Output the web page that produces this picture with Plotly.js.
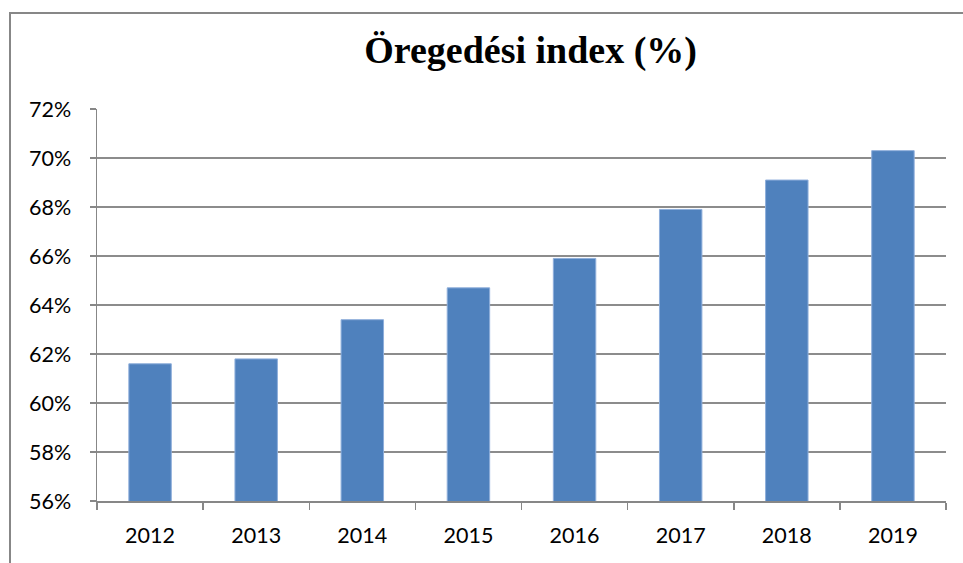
<!DOCTYPE html>
<html>
<head>
<meta charset="utf-8">
<script src="https://cdn.plot.ly/plotly-3.0.1.min.js"></script>
<style>
  html, body { margin: 0; padding: 0; background: #fff; overflow: hidden; }
  #frame { position: absolute; left: 9px; top: 12px; width: 1000px; height: 600px; border: 2px solid #878787; box-sizing: border-box; }
  #chart { position: absolute; left: 0; top: 0; width: 963px; height: 563px; }
</style>
</head>
<body>
<div id="frame"></div>
<div id="chart"></div>
<script>
const years = ['2012', '2013', '2014', '2015', '2016', '2017', '2018', '2019'];
const agingIndex = [61.6, 61.8, 63.4, 64.7, 65.9, 67.9, 69.1, 70.3];
const yTickVals = [56, 58, 60, 62, 64, 66, 68, 70, 72];
const yTickText = ['56%', '58%', '60%', '62%', '64%', '66%', '68%', '70%', '72%'];
const chartTitle = 'Öregedési index (%)';

const trace = {
  type: 'bar',
  x: years,
  y: agingIndex,
  marker: { color: '#4f81bd', line: { color: '#8eaedb', width: 1 } },
  hoverinfo: 'x+y'
};

const layout = {
  width: 963,
  height: 563,
  paper_bgcolor: 'rgba(0,0,0,0)',
  plot_bgcolor: 'rgba(0,0,0,0)',
  margin: { l: 97, r: 17, t: 109, b: 62 },
  bargap: 0.6,
  showlegend: false,
  title: {
    text: '<b>' + chartTitle + '</b>',
    font: { family: 'Liberation Serif, Times New Roman, serif', size: 38, color: '#000' },
    x: 0.551, xanchor: 'center',
    y: 0.912, yanchor: 'middle'
  },
  xaxis: {
    type: 'category',
    showline: true, linecolor: '#878787', linewidth: 1.5,
    ticks: 'outside', tickson: 'boundaries', ticklen: 7, tickcolor: '#878787', tickwidth: 1.5,
    ticklabelstandoff: 15,
    tickfont: { family: 'Lato, Carlito, Liberation Sans, sans-serif', size: 21.5, color: '#000' },
    showgrid: false
  },
  yaxis: {
    range: [56, 72],
    tickvals: yTickVals,
    ticktext: yTickText,
    showline: true, linecolor: '#878787', linewidth: 1.5,
    ticks: 'outside', ticklen: 6, tickcolor: '#878787', tickwidth: 1.5,
    ticklabelstandoff: 14,
    showgrid: true, gridcolor: '#8c8c8c', gridwidth: 1.5,
    zeroline: false,
    tickfont: { family: 'Lato, Carlito, Liberation Sans, sans-serif', size: 21.5, color: '#000' }
  }
};

Plotly.newPlot('chart', [trace], layout, { displayModeBar: false, staticPlot: true });
</script>
</body>
</html>
